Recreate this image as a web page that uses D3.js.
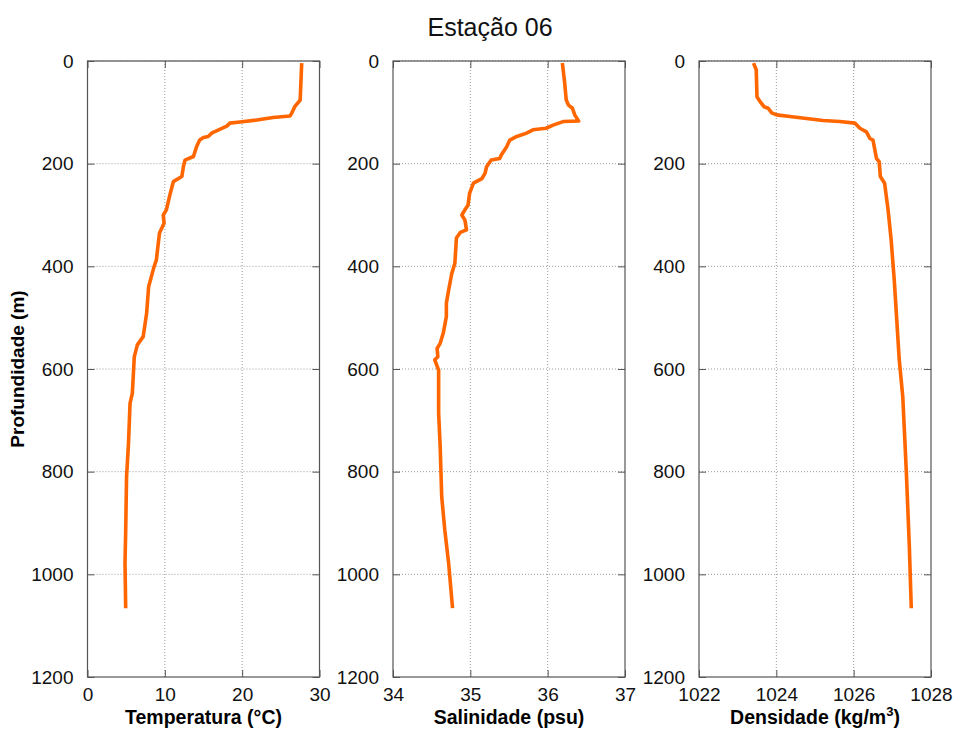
<!DOCTYPE html>
<html>
<head>
<meta charset="utf-8">
<script src="https://cdn.jsdelivr.net/npm/d3@7"></script>
<style>
  body { margin: 0; background: #fff; }
  svg { font-family: "Liberation Sans", Arial, sans-serif; }
  .grid line { stroke: #9a9a9a; stroke-dasharray: 1,2; }
</style>
</head>
<body>
<svg id="chart" width="955" height="735"></svg>
<script>
const MARGINTOP    = 61;
const MARGINBOTTOM = 677;
const PANELWIDTH   = 232;
const PANELLEFTS   = [87.5, 393, 699];

var depthTicks = [0, 200, 400, 600, 800, 1000, 1200];

var tempDepth = [4, 40, 76, 89, 102, 107, 110, 115, 119, 121, 127, 133, 140, 147, 149, 154, 167, 186, 193, 206,
    225, 235, 258, 290, 300, 316, 332, 336, 388, 401, 440, 491, 537, 553, 576, 647, 667, 745, 810, 914, 979, 1066];
var tempValues = [27.7, 27.6, 27.5, 26.8, 26.4, 26.2, 24.0, 21.9, 19.7, 18.4, 18.0, 17.1, 16.1, 15.6, 15.0, 14.5, 14.1, 13.7, 12.6, 12.4,
    12.2, 11.1, 10.7, 10.2, 9.8, 9.9, 9.4, 9.3, 8.9, 8.6, 7.9, 7.65, 7.2, 6.45, 6.05, 5.8, 5.5, 5.3, 5.05, 4.94, 4.85, 4.94];
var tempTicks = [0, 10, 20, 30];

var salDepth = [4, 43, 76, 86, 92, 105, 117, 118, 125, 131, 134, 141, 147, 154, 167, 183, 190, 193, 206, 219, 229, 238,
    258, 281, 290, 300, 310, 329, 334, 345, 394, 414, 446, 472, 498, 530, 550, 560, 576, 582, 602, 686, 751, 849, 914, 979, 1066];
var salValues = [36.19, 36.22, 36.24, 36.27, 36.32, 36.35, 36.40, 36.20, 36.07, 35.98, 35.81, 35.72, 35.60, 35.51, 35.47, 35.40, 35.38,
    35.27, 35.21, 35.19, 35.15, 35.04, 34.99, 34.97, 34.93, 34.89, 34.93, 34.95, 34.87, 34.82, 34.80, 34.76, 34.72, 34.69, 34.69,
    34.65, 34.61, 34.57, 34.58, 34.54, 34.59, 34.59, 34.61, 34.63, 34.67, 34.72, 34.77];
var salTicks = [34, 35, 36, 37];

var densDepth = [4, 17, 70, 79, 89, 92, 101, 105, 108, 112, 116, 118, 121, 131, 138, 151, 154, 190, 196, 225, 238,
    290, 349, 427, 583, 654, 797, 946, 1066];
var densValues = [1023.41, 1023.48, 1023.50, 1023.58, 1023.68, 1023.79, 1023.88, 1024.01, 1024.35, 1024.78, 1025.21, 1025.64,
    1026.03, 1026.16, 1026.33, 1026.42, 1026.50, 1026.59, 1026.66, 1026.69, 1026.80, 1026.89, 1026.97, 1027.05, 1027.18,
    1027.27, 1027.36, 1027.44, 1027.49];
var densTicks = [1022, 1024, 1026, 1028];

var panels = [
    {depth: tempDepth, values: tempValues, ticks: tempTicks, label: "Temperatura (°C)"},
    {depth: salDepth, values: salValues, ticks: salTicks, label: "Salinidade (psu)"},
    {depth: densDepth, values: densValues, ticks: densTicks, label: "Densidade (kg/m", sup: "3", tail: ")"}
];

document.addEventListener('DOMContentLoaded', function(){
    drawChart();
}, false);

function drawChart(){
    var vis = d3.select("#chart");

    var yRange = d3.scaleLinear()
        .domain([0, 1200])
        .range([MARGINTOP, MARGINBOTTOM]);

    vis.append("text")
        .attr("x", 490)
        .attr("y", 36)
        .attr("text-anchor", "middle")
        .style("font-size", "25px")
        .attr("fill", "#111")
        .text("Estação 06");

    vis.append("text")
        .attr("transform", "translate(24," + ((MARGINTOP + MARGINBOTTOM) / 2) + ") rotate(-90)")
        .attr("text-anchor", "middle")
        .style("font-size", "19px")
        .style("font-weight", "bold")
        .text("Profundidade (m)");

    panels.forEach(function(p, i){
        var left = PANELLEFTS[i];
        var right = left + PANELWIDTH;
        var xRange = d3.scaleLinear()
            .domain([p.ticks[0], p.ticks[p.ticks.length - 1]])
            .range([left, right]);

        // grade pontilhada
        var grid = vis.append("g").attr("class", "grid");
        grid.selectAll(".gx").data(p.ticks.slice(1, -1)).enter().append("line")
            .attr("x1", function(d){ return xRange(d); })
            .attr("x2", function(d){ return xRange(d); })
            .attr("y1", MARGINTOP).attr("y2", MARGINBOTTOM);
        grid.selectAll(".gy").data(depthTicks.slice(0, -1)).enter().append("line")
            .attr("x1", left).attr("x2", right)
            .attr("y1", function(d){ return yRange(d); })
            .attr("y2", function(d){ return yRange(d); });

        // eixos com ticks para dentro
        var yAxis = vis.append("g")
            .attr("transform", "translate(" + left + ",0)")
            .call(d3.axisLeft(yRange).tickValues(depthTicks).tickFormat(d3.format("d")).tickSize(-7).tickPadding(14));
        var xAxis = vis.append("g")
            .attr("transform", "translate(0," + MARGINBOTTOM + ")")
            .call(d3.axisBottom(xRange).tickValues(p.ticks).tickFormat(d3.format("d")).tickSize(-7).tickPadding(11));
        var yAxisR = vis.append("g")
            .attr("transform", "translate(" + right + ",0)")
            .call(d3.axisRight(yRange).tickValues(depthTicks).tickSize(-7).tickFormat(""));
        var xAxisT = vis.append("g")
            .attr("transform", "translate(0," + MARGINTOP + ")")
            .call(d3.axisTop(xRange).tickValues(p.ticks).tickSize(-7).tickFormat(""));

        [yAxis, xAxis, yAxisR, xAxisT].forEach(function(a){
            a.selectAll("path").remove();
            a.selectAll("line").attr("stroke", "#555");
            a.selectAll("text").style("font-size", "19px").attr("fill", "#111");
        });

        vis.append("rect")
            .attr("x", left).attr("y", MARGINTOP)
            .attr("width", PANELWIDTH).attr("height", MARGINBOTTOM - MARGINTOP)
            .attr("fill", "none")
            .attr("stroke", "#555")
            .attr("stroke-width", 1.2);

        var line = d3.line()
            .x(function(d){ return xRange(d[1]); })
            .y(function(d){ return yRange(d[0]); });

        vis.append("path")
            .datum(d3.zip(p.depth, p.values))
            .attr("d", line)
            .attr("fill", "none")
            .attr("stroke", "#FF6600")
            .attr("stroke-width", 3.6)
            .attr("stroke-linejoin", "round");

        var lbl = vis.append("text")
            .attr("x", (left + right) / 2)
            .attr("y", 724)
            .attr("text-anchor", "middle")
            .style("font-size", "19.5px")
            .style("font-weight", "bold")
            .text(p.label);
        if (p.sup) {
            lbl.append("tspan").attr("dy", -8).style("font-size", "13px").text(p.sup);
            lbl.append("tspan").attr("dy", 8).text(p.tail);
        }
    });
}
</script>
</body>
</html>
